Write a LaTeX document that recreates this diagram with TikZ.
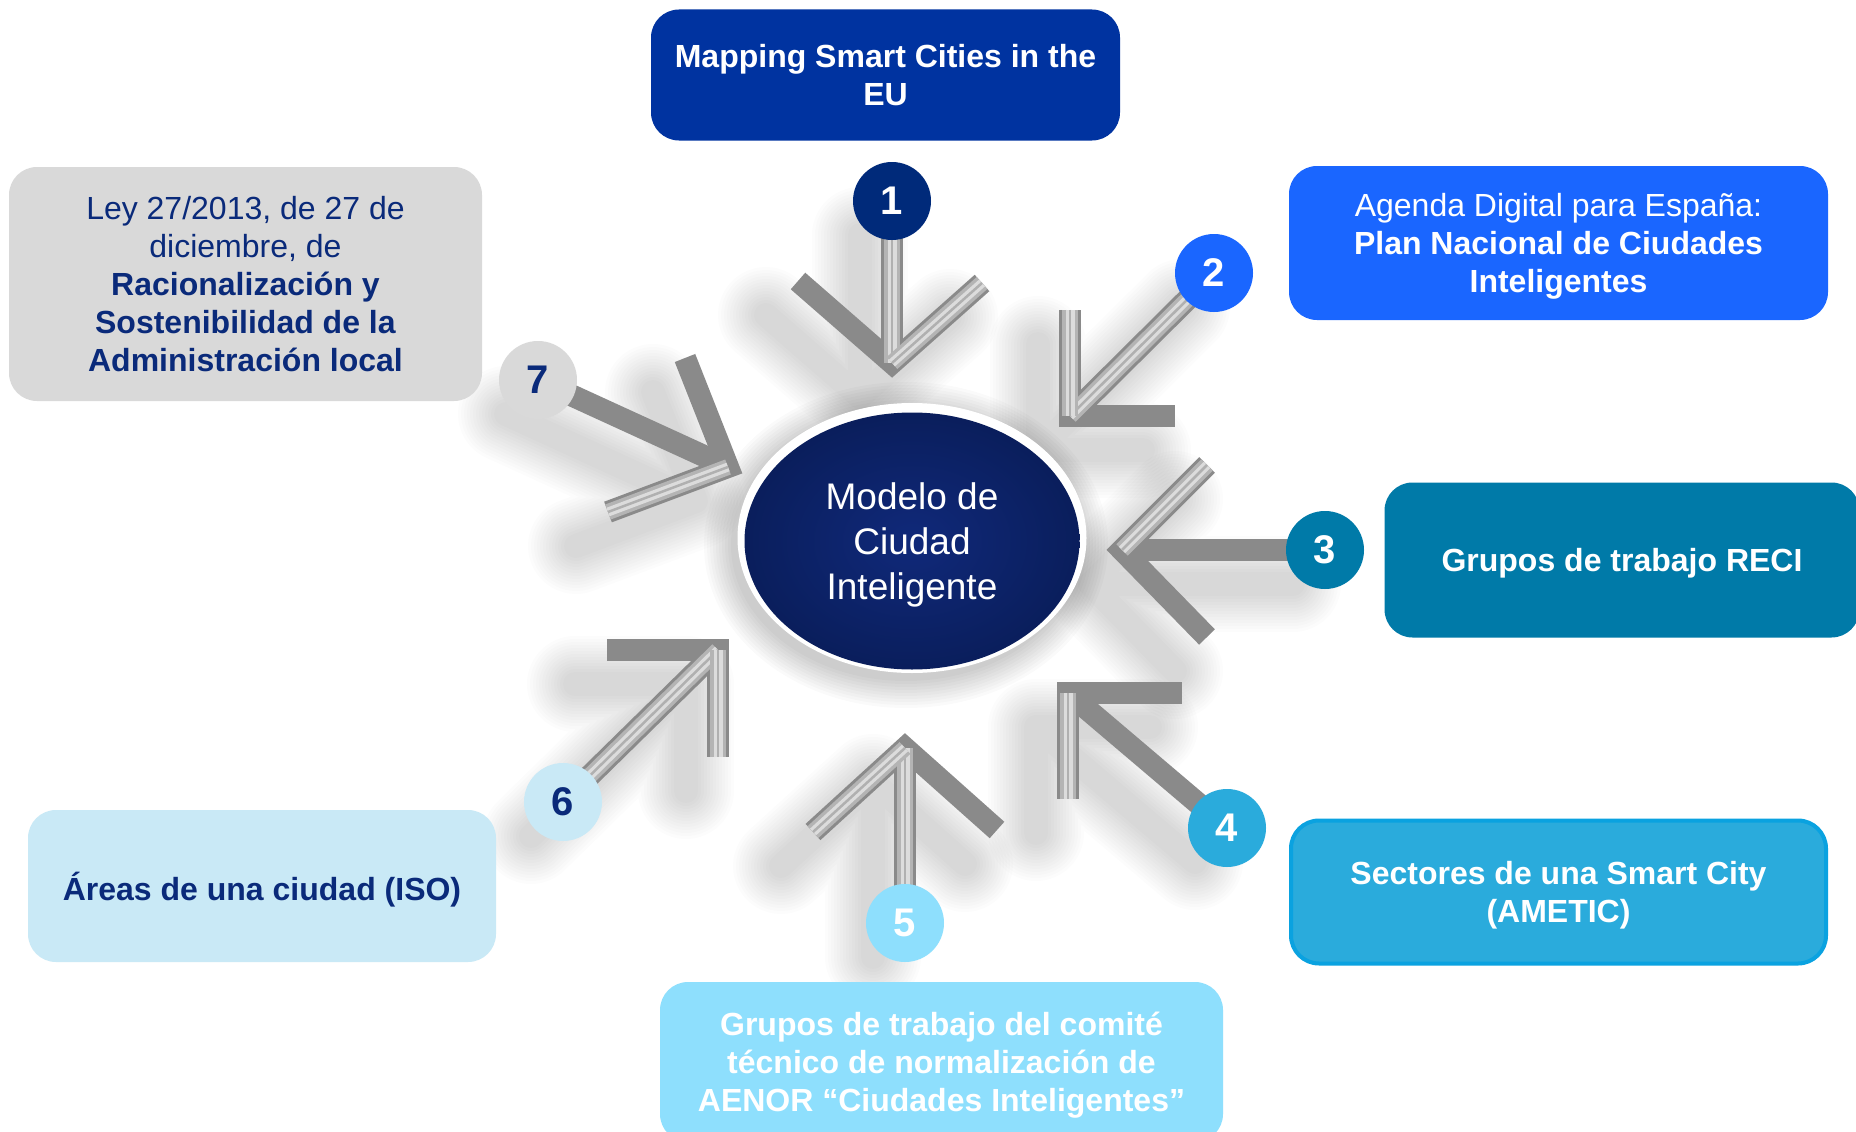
\documentclass[tikz,border=0pt]{standalone}
\usepackage{fontspec}
\setmainfont{Liberation Sans}
\usetikzlibrary{calc,shapes.geometric}
\definecolor{boxone}{HTML}{0033A0}
\definecolor{circone}{HTML}{002A7A}
\definecolor{boxtwo}{HTML}{1A66FF}
\definecolor{boxthree}{HTML}{007AA8}
\definecolor{boxfour}{HTML}{2AABDC}
\definecolor{edgefour}{HTML}{0AA2E0}
\definecolor{boxfive}{HTML}{8EDFFD}
\definecolor{boxsix}{HTML}{C9E9F6}
\definecolor{boxseven}{HTML}{D9D9D9}
\definecolor{navytext}{HTML}{0A2A7A}
\definecolor{modelnavy}{HTML}{0A1E5C}
\definecolor{modelmid}{HTML}{10297A}
\definecolor{barg}{HTML}{8A8A8A}
\definecolor{metA}{HTML}{B4B4B4}
\definecolor{metB}{HTML}{DCDCDC}
\definecolor{metC}{HTML}{B0B0B0}
\tikzset{
  infobox/.style={rounded corners=28pt, align=center, inner sep=0pt, text depth=0pt, font=\fontsize{32}{38}\selectfont},
  numcirc/.style={circle, minimum size=78pt, inner sep=0pt, font=\fontsize{40}{40}\selectfont\bfseries},
  barbase/.style={line width=22pt, draw=barg, line cap=butt, line join=miter, miter limit=10},
}
\newcommand\metalbar[2]{%
  \draw[line width=16pt, draw=metA, line cap=butt] (#1) -- (#2);
  \draw[line width=9pt, draw=metB, line cap=butt] (#1) -- (#2);
  \draw[line width=2.5pt, draw=metC, line cap=butt] (#1) -- (#2);}
% soft shadow of one arrow: #1 circle, #2 vertex, #3 and #4 arm ends
\newcommand\arrowshadow[4]{%
  \foreach \w in {96,90,...,24}{%
    \draw[line width=\w pt, line cap=round, line join=round, draw=black, draw opacity=0.013]
      ($(#1)+(-32,34)$) -- ($(#2)+(-32,34)$)
      ($(#3)+(-32,34)$) -- ($(#2)+(-32,34)$) -- ($(#4)+(-32,34)$);}}
\begin{document}
\begin{tikzpicture}[x=1pt, y=-1pt]
\useasboundingbox (0,0) rectangle (1856,1132);
\clip (0,0) rectangle (1856,1132);
\fill[white] (0,0) rectangle (1856,1132);

% circle centres
\coordinate (p1) at (892,201);
\coordinate (p2) at (1214,273);
\coordinate (p3) at (1325,550);
\coordinate (p4) at (1227,828);
\coordinate (p5) at (905,923);
\coordinate (p6) at (563,802);
\coordinate (p7) at (538,380);

% arrow vertices and arm ends
\coordinate (v1) at (892,363); \coordinate (a1) at (798,281); \coordinate (b1) at (982,283);
\coordinate (v2) at (1070,416); \coordinate (a2) at (1070,310); \coordinate (b2) at (1175,416);
\coordinate (v3) at (1122,550); \coordinate (a3) at (1207,465); \coordinate (b3) at (1207,637);
\coordinate (v4) at (1068,693); \coordinate (a4) at (1182,693); \coordinate (b4) at (1068,799);
\coordinate (v5) at (905,748); \coordinate (a5) at (813,832); \coordinate (b5) at (997,830);
\coordinate (v6) at (718,650); \coordinate (a6) at (607,650); \coordinate (b6) at (718,757);
\coordinate (v7) at (728,467); \coordinate (a7) at (685,358); \coordinate (b7) at (608,512);

% shadows
\foreach \i in {1,...,7}{%
  \arrowshadow{p\i}{v\i}{a\i}{b\i}
}
% shadow of the central ellipse
\foreach \k in {1,...,10}{%
  \fill[black, fill opacity=0.02] (906,545) ellipse ({172+3*\k} and {133+3*\k});
}

% bars: base
\foreach \i in {1,...,7}{%
  \draw[barbase] (a\i) -- (v\i) -- (b\i);
  \draw[barbase] (p\i) -- (v\i);
}
% metallic highlights
\metalbar{p1}{v1} \metalbar{b1}{v1}
\metalbar{p2}{v2} \metalbar{a2}{v2}
\metalbar{a3}{v3}
\metalbar{b4}{v4}
\metalbar{p5}{v5} \metalbar{a5}{v5}
\metalbar{p6}{v6} \metalbar{b6}{v6}
\metalbar{b7}{v7}

% central ellipse
\node[ellipse, fill=white, minimum width=349pt, minimum height=270pt, inner sep=0pt] (rim) at (912,538) {};
\node[ellipse, minimum width=335pt, minimum height=257pt, inner sep=0pt, text depth=0pt,
      inner color=modelmid, outer color=modelnavy, text=white, align=center,
      font=\fontsize{37}{45}\selectfont] (model) at (912,541) {Modelo de\\Ciudad\\Inteligente};

% numbered circles
\node[numcirc, fill=circone, text=white] (c1) at (p1) {1};
\node[numcirc, fill=boxtwo, text=white] (c2) at (p2) {2};
\node[numcirc, fill=boxthree, text=white] (c3) at (p3) {3};
\node[numcirc, fill=boxfour, text=white] (c4) at (p4) {4};
\node[numcirc, fill=boxfive, text=white] (c5) at (p5) {5};
\node[numcirc, fill=boxsix, text=navytext] (c6) at (p6) {6};
\node[numcirc, fill=boxseven, text=navytext] (c7) at (p7) {7};

% boxes
\node[infobox, fill=boxone, text=white, minimum width=469pt, minimum height=131pt, font=\fontsize{32}{38}\selectfont\bfseries]
  (b1box) at (885.5,75) {Mapping Smart Cities in the\\EU};
\node[infobox, fill=boxtwo, text=white, minimum width=539pt, minimum height=154pt]
  (b2box) at (1558.5,243) {Agenda Digital para España:\\\textbf{Plan Nacional de Ciudades}\\\textbf{Inteligentes}};
\node[infobox, fill=boxthree, text=white, minimum width=475pt, minimum height=155pt, font=\fontsize{32}{38}\selectfont\bfseries]
  (b3box) at (1622,560) {Grupos de trabajo RECI};
\node[infobox, fill=boxfour, draw=edgefour, line width=4pt, text=white, minimum width=535pt, minimum height=143pt, font=\fontsize{32}{38}\selectfont\bfseries]
  (b4box) at (1558.5,892) {Sectores de una Smart City\\(AMETIC)};
\node[infobox, fill=boxfive, text=white, minimum width=563pt, minimum height=160pt, font=\fontsize{32}{38}\selectfont\bfseries]
  (b5box) at (941.5,1062) {Grupos de trabajo del comité\\técnico de normalización de\\AENOR “Ciudades Inteligentes”};
\node[infobox, fill=boxsix, text=navytext, minimum width=468pt, minimum height=152pt, font=\fontsize{32}{38}\selectfont\bfseries]
  (b6box) at (262,886) {Áreas de una ciudad (ISO)};
\node[infobox, fill=boxseven, text=navytext, minimum width=473pt, minimum height=234pt]
  (b7box) at (245.5,284) {Ley 27/2013, de 27 de\\diciembre, de\\\textbf{Racionalización y}\\\textbf{Sostenibilidad de la}\\\textbf{Administración local}};
\end{tikzpicture}
\end{document}
